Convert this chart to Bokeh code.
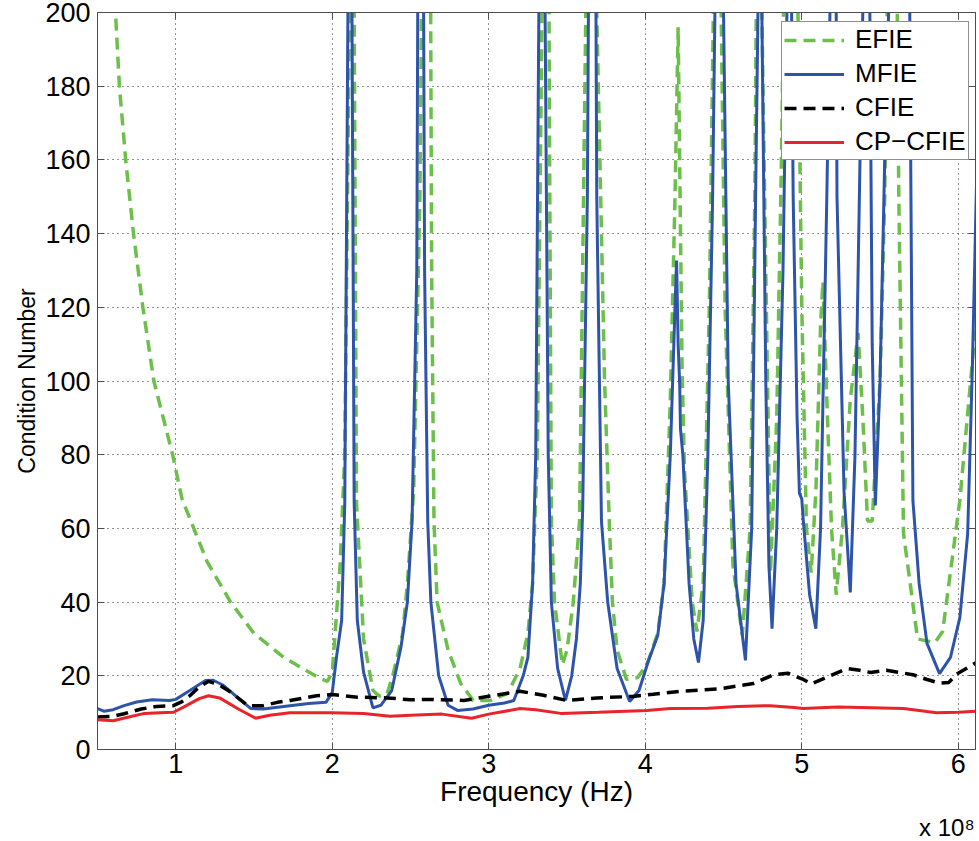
from bokeh.plotting import figure
from bokeh.models import Range1d, FixedTicker, Label, Legend, LegendItem, LinearAxis, CustomJSTickFormatter
from bokeh.embed import file_html
from bokeh.resources import INLINE

# Frequency in units of 1e8 Hz, condition number values
efie_f = [0.5, 0.56, 0.615, 0.64, 0.68, 0.73, 0.79, 0.86, 0.98, 1.04, 1.2, 1.35, 1.5, 1.69,
          1.92, 1.97, 2.0, 2.05, 2.08, 2.11, 2.125, 2.14, 2.155, 2.2, 2.26, 2.3, 2.35, 2.39,
          2.45, 2.48, 2.52, 2.56, 2.59, 2.62, 2.635, 2.65, 2.67, 2.74, 2.82, 2.9, 3.01, 3.12,
          3.2, 3.25, 3.28, 3.31, 3.34, 3.355, 3.375, 3.39, 3.4, 3.42, 3.47, 3.5, 3.54, 3.58,
          3.62, 3.635, 3.665, 3.69, 3.74, 3.77, 3.79, 3.82, 3.88, 3.95, 4.01, 4.08, 4.12, 4.16,
          4.19, 4.21, 4.235, 4.25, 4.3, 4.33, 4.37, 4.41, 4.435, 4.46, 4.485, 4.51, 4.56, 4.62,
          4.67, 4.7, 4.72, 4.745, 4.77, 4.8, 4.84, 4.87, 4.9, 4.96, 4.985, 5.0, 5.03, 5.06,
          5.09, 5.12, 5.135, 5.16, 5.19, 5.22, 5.26, 5.31, 5.36, 5.39, 5.42, 5.45, 5.5, 5.53,
          5.56, 5.6, 5.62, 5.65, 5.74, 5.85, 5.9, 6.01, 6.1, 6.12]
efie_c = [260, 225, 200, 180, 160, 140, 120, 100, 80, 68, 51, 40, 31.5, 25,
          19.3, 18.5, 21, 50, 80, 200, 300, 200, 67, 30, 16, 14.5, 15, 20.6,
          31.5, 45, 70, 150, 300, 300, 130, 62, 40, 27, 18, 13.3, 13.3, 15.2,
          22, 31.5, 45, 80, 200, 300, 300, 150, 62, 40, 23, 27, 40, 62,
          200, 300, 300, 200, 100, 62, 40, 27, 19, 19.5, 23, 31.5, 45, 95,
          150, 196, 104, 76, 40, 32, 45, 122, 200, 260, 200, 120, 50, 31,
          60, 150, 260, 200, 130, 48, 90, 160, 250, 250, 170, 120, 60, 48,
          70, 115, 127, 95, 60, 42, 60, 95, 113, 90, 62, 62, 100, 150,
          250, 250, 150, 58.6, 30, 29, 32, 67.6, 110, 115]

mfie_f = [0.5, 0.54, 0.6, 0.67, 0.75, 0.85, 0.96, 1.0, 1.09, 1.19, 1.24, 1.3, 1.37, 1.48,
          1.56, 1.73, 1.85, 1.96, 2.0, 2.03, 2.06, 2.08, 2.1, 2.113, 2.126, 2.14, 2.16, 2.2,
          2.26, 2.31, 2.38, 2.44, 2.48, 2.51, 2.54, 2.555, 2.575, 2.59, 2.61, 2.63, 2.68, 2.74,
          2.8, 2.9, 3.0, 3.1, 3.16, 3.22, 3.25, 3.28, 3.3, 3.32, 3.335, 3.345, 3.36, 3.38,
          3.4, 3.44, 3.49, 3.53, 3.56, 3.585, 3.6, 3.63, 3.65, 3.675, 3.69, 3.72, 3.76, 3.82,
          3.9, 3.96, 4.02, 4.08, 4.12, 4.16, 4.19, 4.2, 4.21, 4.22, 4.225, 4.24, 4.28, 4.31,
          4.34, 4.37, 4.4, 4.43, 4.445, 4.46, 4.49, 4.5, 4.53, 4.58, 4.64, 4.68, 4.705, 4.72,
          4.735, 4.745, 4.77, 4.79, 4.81, 4.84, 4.88, 4.905, 4.92, 4.935, 4.945, 4.97, 4.985,
          5.0, 5.01, 5.05, 5.09, 5.12, 5.16, 5.18, 5.195, 5.21, 5.225, 5.27, 5.31, 5.34, 5.38,
          5.39, 5.41, 5.435, 5.45, 5.47, 5.5, 5.54, 5.555, 5.58, 5.66, 5.69, 5.71, 5.75, 5.8,
          5.88, 5.95, 6.01, 6.06, 6.09, 6.12]
mfie_c = [11.1, 10.4, 10.8, 11.9, 12.9, 13.5, 13.3, 13.6, 16, 18.7, 18.8, 17.5, 15, 11.1,
          11, 11.9, 12.5, 12.8, 15.5, 26, 35, 67, 200, 300, 200, 67, 35, 21,
          11.3, 12, 16, 28, 40, 62, 130, 300, 300, 130, 62, 40, 20, 12,
          10.6, 11, 12, 12.6, 13.3, 20, 25, 45, 80, 200, 300, 300, 200, 80,
          40, 22, 13.3, 20, 30, 45, 65, 150, 300, 300, 150, 62, 40, 22,
          13, 16, 24, 31, 45, 80, 120, 132.7, 110, 99, 87, 80, 45, 30,
          23.6, 35, 80, 149, 200, 300, 300, 200, 100, 45, 24.2, 60, 150, 200,
          300, 200, 100, 50, 32.8, 60, 130, 200, 300, 200, 150, 90, 69.5,
          68, 62, 42, 32.8, 60, 150, 200, 300, 300, 150, 70, 42.6, 80, 180,
          200, 300, 200, 110, 66.2, 100, 180, 200, 300, 300, 200, 67.6, 45, 28.8,
          20.6, 25, 35.8, 58.6, 103.7, 160]

cfie_f = [0.5, 0.6, 0.67, 0.78, 0.88, 0.985, 1.04, 1.09, 1.15, 1.21, 1.28, 1.35, 1.46, 1.56,
          1.65, 1.73, 1.9, 2.0, 2.16, 2.35, 2.5, 2.63, 2.84, 3.01, 3.2, 3.35, 3.5, 3.69,
          3.92, 4.05, 4.22, 4.48, 4.69, 4.82, 4.91, 5.01, 5.06, 5.18, 5.29, 5.37, 5.44, 5.54,
          5.71, 5.8, 5.88, 5.94, 5.99, 6.12]
cfie_c = [8.8, 9.0, 9.7, 11, 11.7, 11.9, 13, 14.6, 17, 18.5, 17.5, 15.6, 11.9, 11.9,
          12.8, 13.3, 14.6, 14.9, 14.2, 14.0, 13.5, 13.6, 13.3, 14.5, 15.8, 14.7, 13.3, 14.0,
          14.4, 15, 15.8, 16.5, 17.9, 20.3, 20.7, 19.0, 17.8, 20, 22.0, 21.5, 20.9, 21.5,
          20.3, 19, 18.0, 18.2, 20.5, 23.7]

cpcfie_f = [0.5, 0.6, 0.7, 0.8, 0.9, 0.985, 1.05, 1.15, 1.21, 1.28, 1.4, 1.51, 1.6, 1.73,
            2.0, 2.2, 2.37, 2.5, 2.7, 2.89, 3.0, 3.2, 3.3, 3.46, 3.7, 4.01, 4.16, 4.4,
            4.59, 4.8, 4.95, 5.01, 5.23, 5.45, 5.65, 5.8, 5.86, 6.0, 6.12]
cpcfie_c = [8.1, 7.8, 8.8, 9.8, 10, 10.1, 11.5, 13.8, 14.6, 14, 11, 8.5, 9.3, 10,
            10, 9.8, 9.0, 9.3, 9.6, 8.5, 9.6, 11.1, 10.8, 9.8, 10.1, 10.6, 11.1, 11.2,
            11.7, 11.9, 11.4, 11.1, 11.5, 11.3, 11.1, 10.3, 10.0, 10.1, 10.4]

series_names = ["EFIE", "MFIE", "CFIE", "CP\u2212CFIE"]
x_ticks = [1, 2, 3, 4, 5, 6]
y_ticks = list(range(0, 201, 20))
x_scale_text = "x 10\u2078"

FONT = "Liberation Sans"
AXIS_GRAY = "#4d4d4d"

p = figure(width=979, height=841, output_backend="svg", toolbar_location=None,
           x_range=Range1d(0.5, 6.11), y_range=Range1d(0, 200),
           min_border_left=97, min_border_right=4, min_border_top=12, min_border_bottom=92,
           background_fill_color="white", border_fill_color="white")
p.outline_line_color = AXIS_GRAY

p.xaxis.ticker = FixedTicker(ticks=x_ticks)
p.yaxis.ticker = FixedTicker(ticks=y_ticks)
for ax in (p.xaxis[0], p.yaxis[0]):
    ax.major_tick_in = 7
    ax.major_tick_out = 0
    ax.minor_tick_in = 0
    ax.minor_tick_out = 0
    ax.axis_line_color = AXIS_GRAY
    ax.major_tick_line_color = AXIS_GRAY
    ax.major_label_text_font = FONT
    ax.major_label_text_font_size = "27px"
    ax.major_label_text_color = "black"
    ax.axis_label_text_font = FONT
    ax.axis_label_text_font_style = "normal"
    ax.axis_label_text_color = "black"
p.xaxis.axis_label = "Frequency (Hz)"
p.yaxis.axis_label = "Condition Number"
p.xaxis.axis_label_text_font_size = "28px"
p.yaxis.axis_label_text_font_size = "23px"
p.xaxis.major_label_standoff = 4
p.xaxis.axis_label_standoff = 0
p.yaxis.major_label_standoff = 7
p.yaxis.axis_label_standoff = 2

# inward ticks on the top and right edges of the box (no labels)
blank = CustomJSTickFormatter(code="return ''")
for loc, ticks in (("right", y_ticks), ("above", x_ticks)):
    ax = LinearAxis(ticker=FixedTicker(ticks=ticks), formatter=blank,
                    major_label_standoff=0, major_label_text_font_size="1px",
                    major_tick_in=7, major_tick_out=0, minor_tick_in=0, minor_tick_out=0,
                    axis_line_color=AXIS_GRAY, major_tick_line_color=AXIS_GRAY)
    p.add_layout(ax, loc)

for g in (p.xgrid[0], p.ygrid[0]):
    g.grid_line_color = "black"
    g.grid_line_dash = "1 4"
    g.grid_line_width = 1
    g.grid_line_alpha = 0.85

r_efie = p.line(efie_f, efie_c, line_color="#6cbf4a", line_width=3.5, line_dash="12 7")
r_mfie = p.line(mfie_f, mfie_c, line_color="#2d54a8", line_width=3)
r_cfie = p.line(cfie_f, cfie_c, line_color="black", line_width=3.5, line_dash="12 7")
r_cp = p.line(cpcfie_f, cpcfie_c, line_color="#e8242a", line_width=3)

legend = Legend(items=[LegendItem(label=series_names[0], renderers=[r_efie]),
                       LegendItem(label=series_names[1], renderers=[r_mfie]),
                       LegendItem(label=series_names[2], renderers=[r_cfie]),
                       LegendItem(label=series_names[3], renderers=[r_cp])],
                location=(684, 589), label_text_font=FONT, label_text_font_size="26px",
                label_text_color="black", glyph_width=60, glyph_height=28, label_height=28,
                label_standoff=11, spacing=3, padding=2, margin=0,
                border_line_color="#222222", border_line_width=1,
                background_fill_color="white", background_fill_alpha=1.0)
p.add_layout(legend)

# multiplier label under the x axis, in its own side panel so it is not clipped
p.add_layout(Label(x=877, y=9, x_units="screen", y_units="screen", text=x_scale_text,
                   text_align="right", text_baseline="alphabetic",
                   text_font=FONT, text_font_size="24px", text_color="black"), "below")

open("out.html", "w").write(file_html(p, INLINE))
